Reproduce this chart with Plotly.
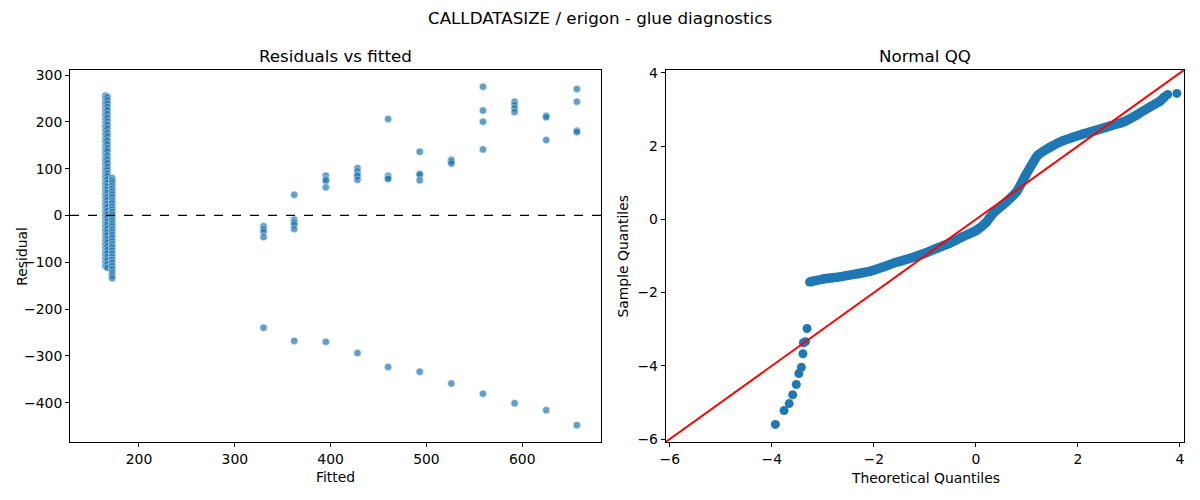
import plotly.graph_objects as go

# residuals vs fitted, grouped by fitted value
fitted_groups = [165, 167, 172, 330, 362, 395, 428, 460, 493, 526, 559, 592, 625, 657]
resid_groups = [
    [256, 250, 243, 237, 229, 221, 214, 205, 197, 190, 181, 173, 164, 157, 148, 141,
     133, 124, 117, 109, 101, 95, 88, 81, 73, 66, 58, 51, 44, 37, 29, 22, 14, 6,
     -1, -9, -17, -24, -32, -40, -47, -55, -62, -70, -78, -85, -93, -100, -108],
    [253, 246, 239, 232, 225, 217, 209, 201, 194, 186, 177, 169, 160, 152, 144, 137,
     128, 120, 112, 104, 97, 90, 84, 77, 70, 62, 55, 48, 40, 33, 25, 18, 10, 2,
     -5, -13, -20, -28, -36, -43, -51, -58, -66, -74, -81, -89, -96, -104, -112],
    [80, 75, 69, 63, 57, 51, 45, 39, 32, 26, 19, 13, 7, 1, -5, -11, -17, -23, -30,
     -36, -42, -48, -55, -62, -68, -75, -82, -89, -95, -101, -108, -115, -122, -128, -134],
    [-23, -29, -35, -46, -240],
    [44, -9, -15, -20, -29, -268],
    [85, 77, 74, 60, -270],
    [101, 94, 87, 84, 76, -294],
    [206, 85, 80, 78, -324],
    [136, 89, 87, 75, -334],
    [119, 116, 111, -359],
    [275, 224, 200, 141, -381],
    [243, 236, 229, 221, -401],
    [213, 210, 161, -416],
    [270, 243, 181, 178, -448],
]

# normal QQ: separated low tail, dense body, last two points
tail_theoretical = [-3.93, -3.76, -3.66, -3.59, -3.52, -3.47, -3.42, -3.39, -3.38, -3.34, -3.31]
tail_sample = [-5.60, -5.22, -5.03, -4.79, -4.51, -4.21, -4.04, -3.67, -3.37, -3.34, -2.98]
body_theoretical = [-3.26, -3.00, -2.67, -2.34, -2.08, -1.82, -1.56, -1.30, -1.03, -0.77,
                    -0.51, -0.25, 0.01, 0.21, 0.34, 0.60, 0.80, 0.96, 1.09, 1.22,
                    1.45, 1.71, 1.98, 2.30, 2.63, 2.89, 3.15, 3.41, 3.61, 3.71]
body_sample = [-1.71, -1.63, -1.57, -1.49, -1.42, -1.30, -1.17, -1.07, -0.94, -0.79,
               -0.65, -0.47, -0.30, -0.07, 0.17, 0.48, 0.76, 1.17, 1.48, 1.76,
               1.97, 2.15, 2.28, 2.41, 2.55, 2.66, 2.85, 3.07, 3.23, 3.36]
top_theoretical = [3.76, 3.94]
top_sample = [3.41, 3.44]
qq_lim = [-6.08, 4.08]

BLUE = "#1f77b4"
FONT = "DejaVu Sans"

fitted = []
resid = []
for fv, rs in zip(fitted_groups, resid_groups):
    fitted += [fv] * len(rs)
    resid += rs

# the page body adds an 8px margin, so the figure is drawn 8px smaller/shifted
OFF = 8
W, H = 1200 - OFF, 500 - OFF
ML, MR, MT, MB = 70 - OFF, 16, 70 - OFF, 58
plot_w = W - ML - MR
plot_h = H - MT - MB


def px(x):
    return (x - OFF - ML) / plot_w


def py(y):
    return (H - MB - (y - OFF)) / plot_h


left_dom = [0, px(601.3)]
right_dom = [px(665.7), 1]

fig = go.Figure()

fig.add_trace(go.Scatter(x=fitted, y=resid, mode="markers", xaxis="x", yaxis="y",
                         marker=dict(size=7.5, color=BLUE, opacity=0.7,
                                     line=dict(color="white", width=0.6)),
                         hoverinfo="skip"))
fig.add_trace(go.Scatter(x=[128, 682.5], y=[0, 0], mode="lines", xaxis="x", yaxis="y",
                         line=dict(color="black", width=1.2, dash="dash"), hoverinfo="skip"))

fig.add_trace(go.Scatter(x=body_theoretical, y=body_sample, mode="lines+markers",
                         xaxis="x2", yaxis="y2",
                         line=dict(color=BLUE, width=9.5, shape="spline", smoothing=0.6),
                         marker=dict(size=9, color=BLUE), hoverinfo="skip"))
fig.add_trace(go.Scatter(x=tail_theoretical + top_theoretical, y=tail_sample + top_sample,
                         mode="markers", xaxis="x2", yaxis="y2",
                         marker=dict(size=9, color=BLUE), hoverinfo="skip"))
fig.add_trace(go.Scatter(x=qq_lim, y=qq_lim, mode="lines", xaxis="x2", yaxis="y2",
                         line=dict(color="red", width=2), hoverinfo="skip"))

axis_style = dict(showline=True, linecolor="black", linewidth=1, mirror=True,
                  showgrid=False, zeroline=False, ticks="outside", ticklen=4,
                  tickcolor="black", tickfont=dict(size=13.9, color="black"),
                  automargin=False)


def label(text, x, y, size=13.9, angle=0):
    return dict(text=text, x=px(x), y=py(y), xref="paper", yref="paper",
                xanchor="center", yanchor="middle", showarrow=False,
                textangle=angle, font=dict(size=size))


fig.update_layout(
    width=W, height=H, showlegend=False,
    margin=dict(l=ML, r=MR, t=MT, b=MB),
    plot_bgcolor="white", paper_bgcolor="white",
    font=dict(family=FONT, color="black"),
    xaxis=dict(domain=left_dom, range=[128, 682.5], tickvals=[200, 300, 400, 500, 600],
               **axis_style),
    yaxis=dict(domain=[0, 1], range=[-484, 310.7],
               tickvals=[-400, -300, -200, -100, 0, 100, 200, 300], **axis_style),
    xaxis2=dict(domain=right_dom, range=qq_lim, tickvals=[-6, -4, -2, 0, 2, 4],
                anchor="y2", **axis_style),
    yaxis2=dict(domain=[0, 1], range=qq_lim, tickvals=[-6, -4, -2, 0, 2, 4],
                anchor="x2", **axis_style),
    annotations=[
        label("CALLDATASIZE / erigon - glue diagnostics", 600, 18, size=16.7),
        label("Residuals vs fitted", 335.6, 56, size=16.7),
        label("Normal QQ", 925, 56, size=16.7),
        label("Fitted", 335.6, 477),
        label("Theoretical Quantiles", 925, 478),
        label("Residual", 21.7, 256, angle=-90),
        label("Sample Quantiles", 622.5, 256, angle=-90),
    ],
)

fig.write_html("out.html")
